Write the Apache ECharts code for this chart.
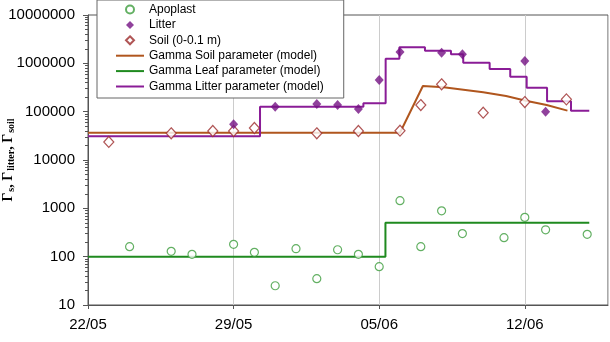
<!DOCTYPE html>
<html>
<head>
<meta charset="utf-8">
<script src="https://cdn.jsdelivr.net/npm/echarts@6/dist/echarts.min.js"></script>
<style>
  html, body { margin: 0; padding: 0; background: #fff; }
  #chart { width: 610px; height: 342px; }
</style>
</head>
<body>
<div id="chart"></div>
<script>
// days counted from 22/05
const startDate = Date.UTC(2000, 4, 22);
const xTicks = [0, 7, 14, 21];

const apoplastDays = [2, 4, 5, 7, 8, 9, 10, 11, 12, 13, 14, 15, 16, 17, 18, 20, 21, 22, 24];
const apoplastValues = [161, 129, 112, 180, 123, 25, 146, 35, 139, 112, 62, 1440, 161, 890, 300, 247, 650, 360, 290];

const litterDays = [7, 9, 11, 12, 13, 14, 15, 17, 18, 21, 22];
const litterValues = [54700, 127000, 144000, 137000, 113000, 452000, 1710000, 1660000, 1540000, 1120000, 99500];

const soilDays = [1, 4, 6, 7, 8, 11, 13, 15, 16, 17, 19, 21, 23];
const soilValues = [23600, 35700, 39800, 39800, 45900, 35700, 39800, 40400, 137000, 368000, 95200, 158000, 180000];

const soilModelDays = [0, 15, 16.1, 17.1, 19, 20.1, 21.05, 22.05, 23.05];
const soilModelValues = [36700, 36700, 340000, 319000, 252000, 211000, 169000, 137000, 105000];

const leafModelDays = [0, 14.3, 24.1];
const leafModelValues = [100, 504, 504];

const litterModelDays = [0, 8.27, 13.24, 14.31, 14.97, 16.2, 17.45, 18.04, 19.31, 20.3, 21.09, 22.07, 23.22, 24.1];
const litterModelValues = [31000, 127000, 149000, 1250000, 2150000, 1820000, 1540000, 1030000, 764000, 529000, 313000, 164000, 105000, 105000];

const pairs = (xs, ys) => xs.map((x, i) => [x, ys[i]]);

function dayLabel(v) {
  if (xTicks.indexOf(v) < 0) return '';
  const d = new Date(startDate + v * 86400000);
  const dd = String(d.getUTCDate()).padStart(2, '0');
  const mm = String(d.getUTCMonth() + 1).padStart(2, '0');
  return dd + '/' + mm;
}

const chart = echarts.init(document.getElementById('chart'), null, { renderer: 'canvas' });
const font = 'Liberation Sans, Arial, sans-serif';
const serif = 'Liberation Serif, Times New Roman, serif';
const lineIcon = 'path://M0,0 L28,0 L28,2 L0,2 Z';
const diamondIcon = 'path://M5,0 L10,5 L5,10 L0,5 Z';

chart.setOption({
  animation: false,
  backgroundColor: '#fff',
  textStyle: { fontFamily: font },
  grid: {
    left: 88, right: 2, top: 15, bottom: 37,
    containLabel: false,
    outerBoundsMode: 'none',
    show: true, borderColor: '#555', borderWidth: 1
  },
  legend: {
    orient: 'vertical',
    left: 97, top: 0,
    itemWidth: 28, itemHeight: 8, itemGap: 2.4,
    padding: [3, 20, 5, 19],
    backgroundColor: '#fff',
    borderColor: '#666', borderWidth: 1,
    textStyle: { fontSize: 12, color: '#000', fontFamily: font, lineHeight: 13 },
    data: [
      { name: 'Apoplast', icon: 'circle' },
      { name: 'Litter', icon: diamondIcon },
      { name: 'Soil (0-0.1 m)', icon: diamondIcon },
      { name: 'Gamma Soil parameter (model)', icon: lineIcon },
      { name: 'Gamma Leaf parameter (model)', icon: lineIcon },
      { name: 'Gamma Litter parameter (model)', icon: lineIcon }
    ],
    z: 10
  },
  xAxis: {
    type: 'value',
    min: 0, max: 25, interval: 7,
    axisLine: { lineStyle: { color: '#555', width: 1 } },
    axisTick: { show: true, inside: false, length: 4, lineStyle: { color: '#555' } },
    axisLabel: {
      fontSize: 15, color: '#000', margin: 12, fontFamily: font,
      formatter: dayLabel,
      showMaxLabel: false
    },
    splitLine: { show: true, lineStyle: { color: '#ccc', width: 1 } }
  },
  yAxis: {
    type: 'log',
    logBase: 10,
    min: 10, max: 10000000,
    name: '{g|Γ}{s|s}{g|, Γ}{s|litter}{g|, Γ}{s|soil}',
    nameLocation: 'middle',
    nameGap: 72,
    nameMoveOverlap: false,
    nameTextStyle: {
      rich: {
        g: { fontFamily: serif, fontWeight: 'bold', fontSize: 14, color: '#000' },
        s: { fontFamily: serif, fontWeight: 'bold', fontSize: 10, color: '#000', padding: [5, 0, 0, 1] }
      }
    },
    axisLine: { show: true, lineStyle: { color: '#555', width: 1 } },
    axisTick: { show: true, inside: false, length: 5, lineStyle: { color: '#555' } },
    minorTick: { show: true, splitNumber: 9, length: 3, lineStyle: { color: '#555' } },
    axisLabel: {
      fontSize: 15, color: '#000', margin: 13, fontFamily: font,
      formatter: v => String(Math.round(v))
    },
    splitLine: { show: false }
  },
  series: [
    {
      name: 'Gamma Soil parameter (model)',
      type: 'line',
      data: pairs(soilModelDays, soilModelValues),
      symbol: 'none',
      lineStyle: { color: '#b0561e', width: 2 },
      itemStyle: { color: '#b0561e' },
      z: 2
    },
    {
      name: 'Gamma Leaf parameter (model)',
      type: 'line',
      step: 'end',
      data: pairs(leafModelDays, leafModelValues),
      symbol: 'none',
      lineStyle: { color: '#1f8a1f', width: 2 },
      itemStyle: { color: '#1f8a1f' },
      z: 2
    },
    {
      name: 'Gamma Litter parameter (model)',
      type: 'line',
      step: 'end',
      data: pairs(litterModelDays, litterModelValues),
      symbol: 'none',
      lineStyle: { color: '#8a1c97', width: 2 },
      itemStyle: { color: '#8a1c97' },
      z: 2
    },
    {
      name: 'Apoplast',
      type: 'scatter',
      data: pairs(apoplastDays, apoplastValues),
      symbol: 'circle',
      symbolSize: 8,
      itemStyle: { color: '#fff', borderColor: '#3c9c3c', borderWidth: 1.2 },
      z: 3
    },
    {
      name: 'Litter',
      type: 'scatter',
      data: pairs(litterDays, litterValues),
      symbol: 'diamond',
      symbolSize: [9, 10],
      itemStyle: { color: '#741283' },
      z: 4
    },
    {
      name: 'Soil (0-0.1 m)',
      type: 'scatter',
      data: pairs(soilDays, soilValues),
      symbol: 'diamond',
      symbolSize: [10, 11],
      itemStyle: { color: '#fff', borderColor: '#9c2b2b', borderWidth: 1.2 },
      z: 3
    }
  ]
});
</script>
</body>
</html>
